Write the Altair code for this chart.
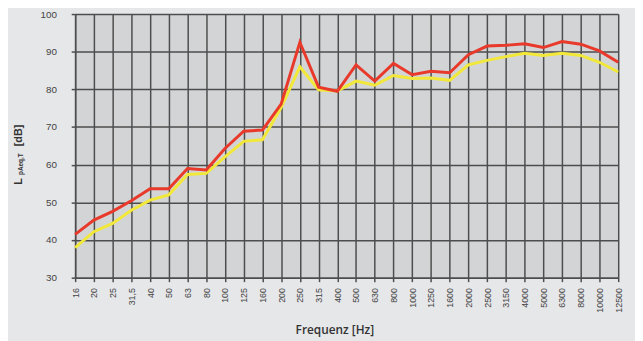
import altair as alt
import pandas as pd

freqs = ["16", "20", "25", "31,5", "40", "50", "63", "80", "100", "125", "160", "200",
         "250", "315", "400", "500", "630", "800", "1000", "1250", "1600", "2000",
         "2500", "3150", "4000", "5000", "6300", "8000", "10000", "12500"]
red_vals = [41.5, 45.3, 47.6, 50.4, 53.6, 53.6, 59.0, 58.6, 64.3, 68.9, 69.2, 76.1,
            92.5, 80.6, 79.5, 86.5, 82.2, 86.9, 83.9, 84.8, 84.4, 89.2,
            91.5, 91.7, 92.1, 91.1, 92.7, 92.0, 90.2, 87.2]
yellow_vals = [38.0, 42.2, 44.4, 47.9, 50.6, 52.0, 57.4, 57.7, 62.1, 66.2, 66.6, 75.2,
               86.0, 79.9, 79.6, 82.2, 81.1, 83.7, 82.9, 83.0, 82.4, 86.5,
               87.7, 88.7, 89.6, 89.0, 89.6, 89.0, 87.2, 84.6]
y_ticks = [30, 40, 50, 60, 70, 80, 90, 100]

df = pd.DataFrame({"freq": freqs, "red": red_vals, "yellow": yellow_vals})
one = pd.DataFrame({"t": [0]})

x_enc = alt.X("freq:N", sort=freqs, scale=alt.Scale(type="point", padding=0),
              axis=alt.Axis(title=None, labelAngle=270, labelFontSize=9,
                            labelColor="#444444", labelFont="Liberation Sans",
                            labelPadding=6, tickSize=4, tickColor="#4d4d4d",
                            tickWidth=1.5, domainColor="#4d4d4d", domainWidth=1.5,
                            grid=True, gridColor="#4d4d4d", gridWidth=1.5))
y_axis = alt.Axis(title=None, values=y_ticks, labelFontSize=10, labelColor="#444444",
                  labelFont="Liberation Sans", labelPadding=15, tickSize=4,
                  tickColor="#4d4d4d", tickWidth=1.5, domainColor="#4d4d4d",
                  domainWidth=1.5, grid=True, gridColor="#4d4d4d", gridWidth=1.5)
y_scale = alt.Scale(domain=[30, 100], nice=False, zero=False)

yellow = alt.Chart(df).mark_line(color="#f2e83a", strokeWidth=3).encode(
    x=x_enc, y=alt.Y("yellow:Q", scale=y_scale, axis=y_axis))
red = alt.Chart(df).mark_line(color="#e8392a", strokeWidth=3).encode(
    x=x_enc, y=alt.Y("red:Q", scale=y_scale, axis=y_axis))

def txt(s, x, y, size, angle=270, align="left", weight="bold", font="Liberation Sans"):
    return alt.Chart(one).mark_text(text=s, fontSize=size, angle=angle, align=align,
                                    baseline="middle", fontWeight=weight, font=font,
                                    color="#333333").encode(
        x=alt.value(x), y=alt.value(y))

t_L = txt("L", -57, 173, 11)
t_sub = txt("pAeq,T", -55, 163, 6.5)
t_db = txt("[dB]", -56.5, 134, 11)
t_x = txt("Frequenz [Hz]", 263, 320, 12, angle=0, align="center", weight=600,
          font="Open Sans")

chart = alt.layer(yellow, red, t_L, t_sub, t_db, t_x).properties(
    width=550, height=267, autosize="none",
    padding={"left": 68, "top": 4, "right": 17, "bottom": 62},
    background="#e6e7e9",
).configure_view(fill="#d3d4d6", strokeWidth=0)

chart.save("out.html", embed_options={"renderer": "svg", "actions": False})
